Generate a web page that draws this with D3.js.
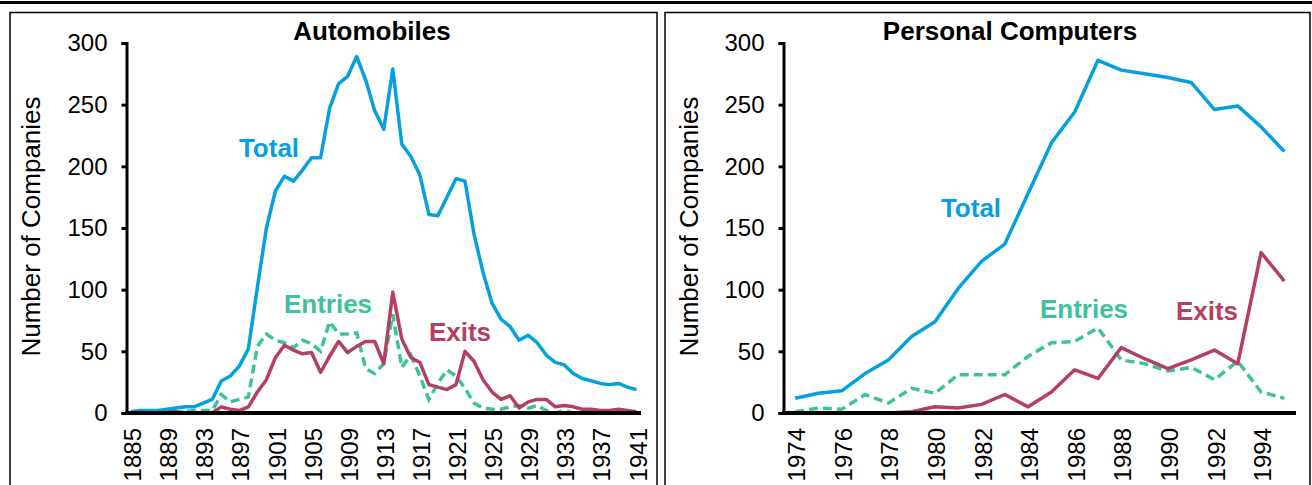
<!DOCTYPE html>
<html>
<head>
<meta charset="utf-8">
<script src="https://cdn.jsdelivr.net/npm/d3@7"></script>
<style>
  body { margin: 0; background: #fff; }
  text { font-family: "Liberation Sans", Arial, sans-serif; }
</style>
</head>
<body>
<svg id="chart" width="1312" height="485"></svg>
<script>
// --- data ---
const autoYears = [1885,1886,1887,1888,1889,1890,1891,1892,1893,1894,
  1895,1896,1897,1898,1899,1900,1901,1902,1903,1904,
  1905,1906,1907,1908,1909,1910,1911,1912,1913,1914,
  1915,1916,1917,1918,1919,1920,1921,1922,1923,1924,
  1925,1926,1927,1928,1929,1930,1931,1932,1933,1934,
  1935,1936,1937,1938,1939,1940,1941];
const autoTotal = [1,2,2,2,3,4,5,5,8,11,
  26,30,38,52,102,150,180,192,188,197,
  207,207,247,267,273,289,270,245,230,279,
  218,208,193,161,160,175,190,188,145,114,
  89,76,70,59,63,57,47,41,39,32,
  28,26,24,23,24,21,19];
const autoEntries = [0,0,0,1,1,1,1,2,2,2,
  15,9,11,13,54,64,59,57,53,59,
  56,50,74,64,64,65,36,32,40,80,
  37,47,30,11,24,35,30,20,8,4,
  3,3,5,6,4,6,2,0,2,0,
  0,0,0,0,2,0,0];
const autoExits = [0,0,0,0,1,1,0,0,0,0,
  5,3,2,5,17,27,45,55,51,48,
  49,33,46,58,49,54,58,58,40,98,
  60,45,41,23,21,19,23,50,42,27,
  17,11,14,4,9,11,11,5,6,5,
  3,3,2,2,3,2,1];
const autoTickYears = [1885,1889,1893,1897,1901,1905,1909,1913,1917,1921,1925,1929,1933,1937,1941];

const pcYears = [1974,1975,1976,1977,1978,1979,1980,1981,1982,1983,1984,
  1985,1986,1987,1988,1989,1990,1991,1992,1993,1994,1995];
const pcTotal   = [12,16,18,32,43,62,74,101,123,137,178,219,244,286,278,275,272,268,246,249,232,212];
const pcEntries = [1,4,3,15,8,20,16,31,31,31,46,57,58,69,43,40,34,37,27,42,17,12];
const pcExits   = [0,0,0,0,0,1,5,4,7,15,5,17,35,28,53,44,36,43,51,40,130,107];
const pcTickYears = [1974,1976,1978,1980,1982,1984,1986,1988,1990,1992,1994];

const yTicks = [0,50,100,150,200,250,300];

const colTotal = "#05A0DF", colEntries = "#3DC29D", colExits = "#B4405E";

const svg = d3.select("#chart");
svg.append("rect").attr("width", 1312).attr("height", 485).attr("fill", "#fff");

// top rule and the two panel frames
svg.append("line").attr("x1", 0).attr("x2", 1312).attr("y1", 2.5).attr("y2", 2.5)
  .attr("stroke", "#000").attr("stroke-width", 3);
svg.append("rect").attr("x", 10).attr("y", 12.5).attr("width", 647).attr("height", 500)
  .attr("fill", "none").attr("stroke", "#000").attr("stroke-width", 1.5);
svg.append("rect").attr("x", 665).attr("y", 12.5).attr("width", 645).attr("height", 500)
  .attr("fill", "none").attr("stroke", "#000").attr("stroke-width", 1.5);

const y = d3.scaleLinear().domain([0, 300]).range([413, 43]);

function panel(p) {
  const g = svg.append("g");
  const x = d3.scaleBand().domain(p.years).range(p.xRange);
  const cx = yr => x(yr) + x.bandwidth() / 2;

  const line = d3.line()
    .x((d, i) => cx(p.years[i]))
    .y(d => y(d))
    .curve(d3.curveLinear);

  g.append("path").datum(p.entries).attr("d", line)
    .attr("fill", "none").attr("stroke", colEntries).attr("stroke-width", 3.5)
    .attr("stroke-dasharray", "9,5");
  g.append("path").datum(p.exits).attr("d", line)
    .attr("fill", "none").attr("stroke", colExits).attr("stroke-width", 3.5)
    .attr("stroke-linejoin", "round");
  g.append("path").datum(p.total).attr("d", line)
    .attr("fill", "none").attr("stroke", colTotal).attr("stroke-width", 3.5)
    .attr("stroke-linejoin", "round");

  // y axis
  const ya = g.append("g").attr("transform", `translate(${p.xRange[0]},0)`)
    .call(d3.axisLeft(y).tickValues(yTicks).tickSize(5).tickSizeOuter(5).tickPadding(14));
  ya.select(".domain").attr("stroke-width", 3);
  ya.selectAll(".tick line").attr("stroke-width", 3);
  ya.selectAll(".tick text").attr("font-size", 24).attr("fill", "#000")
    .attr("font-family", "Liberation Sans, Arial, sans-serif");

  // x axis
  const xa = g.append("g").attr("transform", "translate(0,413)")
    .call(d3.axisBottom(x).tickValues(p.ticks).tickSize(0));
  xa.select(".domain").remove();
  xa.selectAll(".tick text")
    .attr("transform", "rotate(-90)")
    .attr("x", -15).attr("y", 0).attr("dy", "0.42em")
    .attr("text-anchor", "end")
    .attr("font-size", 24).attr("fill", "#000")
    .attr("font-family", "Liberation Sans, Arial, sans-serif");
  g.append("line").attr("x1", p.xRange[0] - 1.5).attr("x2", p.xRange[1])
    .attr("y1", 413).attr("y2", 413).attr("stroke", "#000").attr("stroke-width", 4);

  // titles
  g.append("text").attr("x", p.titleX).attr("y", 40).attr("text-anchor", "middle")
    .attr("font-size", 26).attr("font-weight", "bold").text(p.title);
  g.append("text").attr("transform", `translate(${p.yTitleX},226.5) rotate(-90)`)
    .attr("text-anchor", "middle").attr("font-size", 26).text("Number of Companies");

  // series labels
  const lab = [["Total", colTotal], ["Entries", colEntries], ["Exits", colExits]];
  lab.forEach(([name, c], i) => {
    g.append("text").attr("x", p.labels[i][0]).attr("y", p.labels[i][1])
      .attr("text-anchor", "middle").attr("font-size", 26).attr("font-weight", "bold")
      .attr("fill", c).text(name);
  });
}

panel({
  years: autoYears, total: autoTotal, entries: autoEntries, exits: autoExits,
  ticks: autoTickYears, xRange: [126.5, 641], title: "Automobiles", titleX: 372,
  yTitleX: 39.5, labels: [[269, 157], [328, 313], [460, 341]]
});
panel({
  years: pcYears, total: pcTotal, entries: pcEntries, exits: pcExits,
  ticks: pcTickYears, xRange: [783.5, 1296], title: "Personal Computers", titleX: 1010,
  yTitleX: 697.5, labels: [[971, 217], [1084, 318], [1207, 320]]
});
</script>
</body>
</html>
